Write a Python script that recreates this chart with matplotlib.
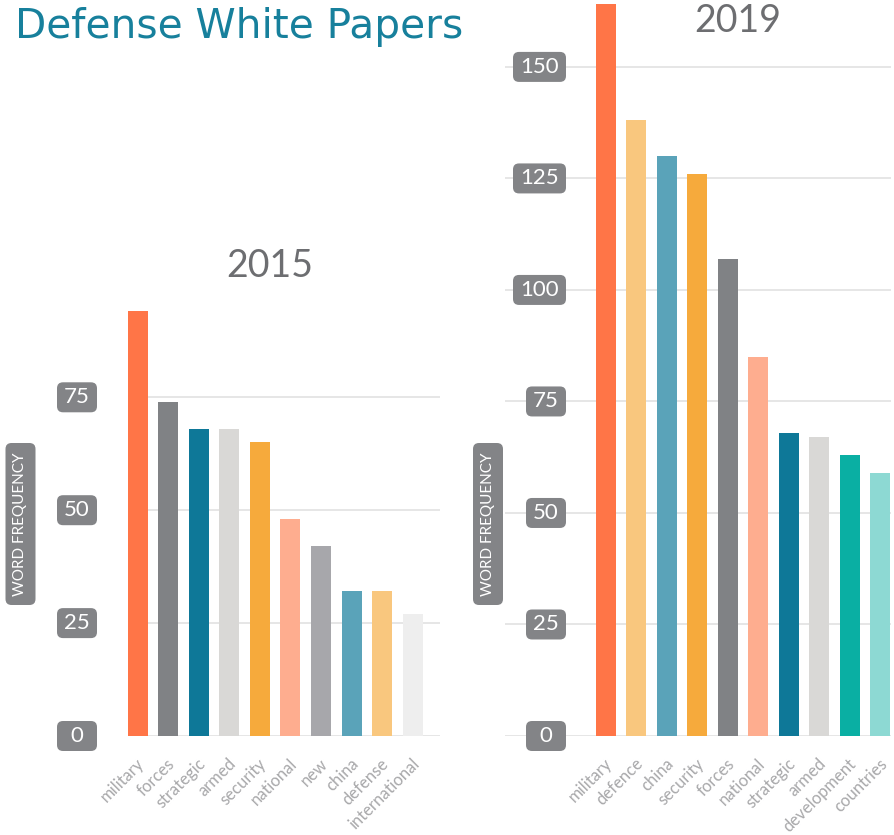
import matplotlib
matplotlib.use("Agg")
import matplotlib.pyplot as plt
import matplotlib.transforms as mtransforms
from matplotlib.patches import FancyBboxPatch

# Datos
words_2015 = ["military", "forces", "strategic", "armed", "security",
              "national", "new", "china", "defense", "international"]
freq_2015 = [94, 74, 68, 68, 65, 48, 42, 32, 32, 27]
colors_2015 = ["#FF7547", "#808285", "#0E7898", "#D9D8D6", "#F6AA3C",
               "#FEAD8F", "#A7A7AB", "#5AA3B9", "#F9C77E", "#EEEEEE"]
ticks_2015 = [0, 25, 50, 75]

words_2019 = ["military", "defence", "china", "security", "forces",
              "national", "strategic", "armed", "development", "countries"]
freq_2019 = [164, 138, 130, 126, 107, 85, 68, 67, 63, 59]
colors_2019 = ["#FF7547", "#F9C77E", "#5AA3B9", "#F6AA3C", "#808285",
               "#FEAD8F", "#0E7898", "#D9D8D6", "#0AAFA3", "#8DD9D3"]
ticks_2019 = [0, 25, 50, 75, 100, 125, 150]

plt.rcParams['font.family'] = ['Lato', 'DejaVu Sans']

W, H = 895, 835
fig = plt.figure(figsize=(W / 100, H / 100), dpi=100)

BOX_GRAY = "#838487"
GRID = "#E2E2E2"
LABEL_GRAY = "#A8A8AA"


def px_axes(left, right, bottom, top):
    # convierte pixeles (desde arriba) a fraccion de figura
    return fig.add_axes([left / W, 1 - bottom / H, (right - left) / W, (bottom - top) / H])


def tick_boxes(ax, ticks, right_px):
    for t in ticks:
        lab = str(t)
        _, yd = ax.transData.transform((0, t))
        bw = 40 if len(lab) < 3 else 53
        bh = 30
        box = FancyBboxPatch((right_px - bw, yd - bh / 2), bw, bh,
                             boxstyle="round,pad=0,rounding_size=6",
                             transform=mtransforms.IdentityTransform(),
                             facecolor=BOX_GRAY, edgecolor="none", zorder=5)
        fig.add_artist(box)
        fig.text((right_px - bw / 2) / W, yd / H, lab, ha="center", va="center",
                 color="white", fontsize=16, zorder=6)


def ylabel_box(cx):
    top, bottom = 443, 605
    box = FancyBboxPatch((cx - 15, H - bottom), 30, bottom - top,
                         boxstyle="round,pad=0,rounding_size=6",
                         transform=mtransforms.IdentityTransform(),
                         facecolor=BOX_GRAY, edgecolor="none", zorder=5)
    fig.add_artist(box)
    fig.text(cx / W, 1 - (top + bottom) / 2 / H, "WORD FREQUENCY", rotation=90,
             ha="center", va="center", color="white", fontsize=11, zorder=6)


def panel(ax, words, freq, colors, ticks, ymax, xlim):
    x = list(range(len(words)))
    ax.set_xlim(*xlim)
    ax.set_ylim(0, ymax)
    for t in ticks:
        ax.axhline(t, color=GRID, lw=1.2, zorder=0)
    ax.bar(x, freq, width=0.655, color=colors, zorder=2)
    for s in ax.spines.values():
        s.set_visible(False)
    ax.set_xticks([])
    ax.set_yticks([])
    ax.patch.set_alpha(0)
    for i, w in enumerate(words):
        ax.annotate(w, xy=(i, 0), xytext=(3, -18), textcoords="offset points",
                    ha="right", va="center", rotation=45, rotation_mode="anchor",
                    color=LABEL_GRAY, fontsize=12, annotation_clip=False)


# panel 2015
ax1 = px_axes(128, 440, 736, 736 - 100 * 4.516)
panel(ax1, words_2015, freq_2015, colors_2015, ticks_2015, 100,
      (-0.318, 9.895))
fig.text(270 / W, 1 - 266 / H, "2015", ha="center", va="center",
         color="#6D6E71", fontsize=27)

# panel 2019
ax2 = px_axes(505, 891, 736, 0)
panel(ax2, words_2019, freq_2019, colors_2019, ticks_2019, 165,
      (-3.305, 9.351))
fig.text(738 / W, 1 - 21 / H, "2019", ha="center", va="center",
         color="#6D6E71", fontsize=27)

tick_boxes(ax1, ticks_2015, 97)
tick_boxes(ax2, ticks_2019, 566)
ylabel_box(20.5)
ylabel_box(488)

# titulo: se ajusta el tamano para que ocupe el mismo ancho que el original
title = fig.text(15 / W, 1 - 27 / H, "Defense White Papers", ha="left", va="center",
                 color="#17809C", fontsize=27, family=["DejaVu Sans"])
fig.canvas.draw()
ancho = title.get_window_extent().width
title.set_fontsize(27 * 447 / ancho)

fig.savefig("out.png", dpi=100)
